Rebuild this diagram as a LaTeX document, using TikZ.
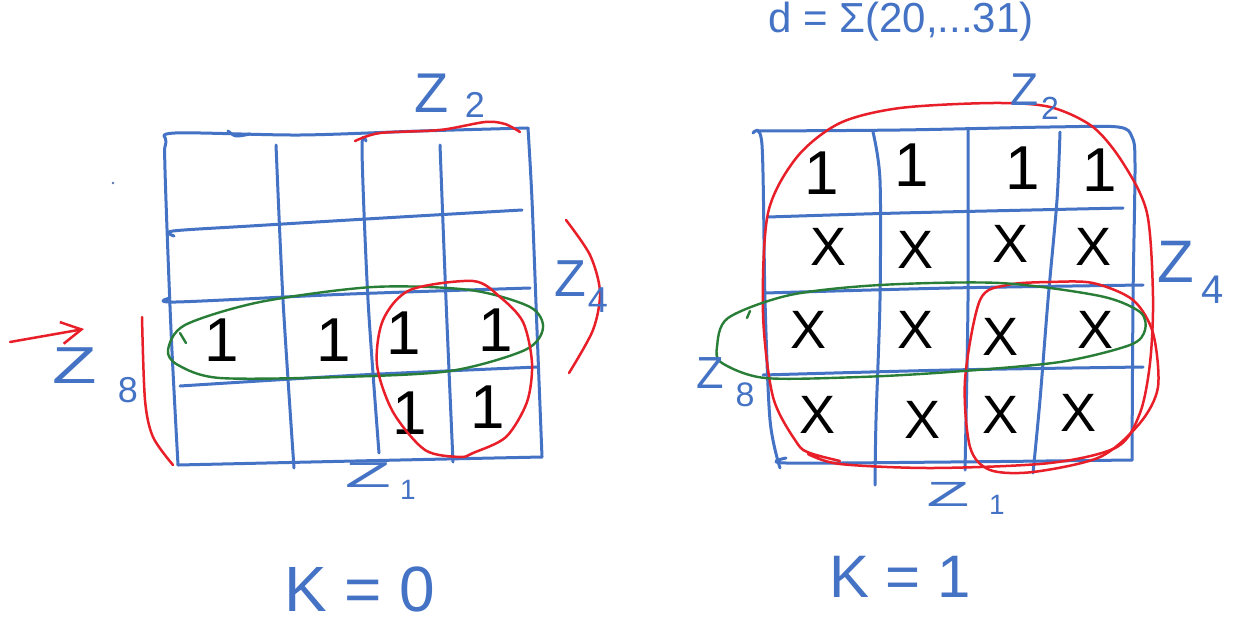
\documentclass[tikz,border=0pt]{standalone}
\usepackage{fontspec}
\setmainfont{Liberation Sans}
\usetikzlibrary{arrows.meta}
\definecolor{pen}{RGB}{68,114,196}
\definecolor{rpen}{RGB}{232,30,40}
\definecolor{gpen}{RGB}{40,125,55}
\newcommand{\fsz}[1]{\fontsize{#1}{#1}\selectfont}
\begin{document}
\begin{tikzpicture}[x=1pt,y=-1pt,
  grid/.style={draw=pen,line width=3pt,line cap=round,line join=round},
  loopr/.style={draw=rpen,line width=2.5pt,line cap=round,line join=round},
  loopg/.style={draw=gpen,line width=2.4pt,line cap=round,line join=round},
  lbl/.style={text=pen,inner sep=0pt},
  cellone/.style={text=black,inner sep=0pt,font=\fsz{62}},
  cellx/.style={text=black,inner sep=0pt,font=\fsz{54}}]
\fill[white] (0,0) rectangle (1236,624);
\useasboundingbox (0,0) rectangle (1236,624);

% ---------------- left map (K=0) ----------------
\draw[grid] plot[smooth] coordinates {(178,465) (171,330) (165,170) (166,142) (175,133) (300,135) (420,131) (528,128)};
\draw[grid] plot[smooth] coordinates {(528,128) (532,200) (537,330) (542,457)};
\draw[grid] plot[smooth] coordinates {(542,457) (400,460) (178,465)};
\draw[grid] plot[smooth] coordinates {(228,131) (236,136) (250,134)};
\draw[grid] plot[smooth] coordinates {(276,145) (283,300) (294,468)};
\draw[grid] plot[smooth] coordinates {(366,141) (362,150) (368,300) (379,453)};
\draw[grid] plot[smooth] coordinates {(440,145) (446,300) (453,462)};
\draw[grid] plot[smooth] coordinates {(174,236) (173,231) (250,226) (400,217) (522,210)};
\draw[grid] plot[smooth] coordinates {(170,298) (176,302) (350,294) (530,288)};
\draw[grid] plot[smooth] coordinates {(180,386) (360,375) (538,367)};

\node[cellone] (a31) at (222,340) {1};
\node[cellone] (a32) at (334,340) {1};
\node[cellone] (a33) at (404,333) {1};
\node[cellone] (a34) at (496,330) {1};
\node[cellone] (a43) at (410,413) {1};
\node[cellone] (a44) at (488,407) {1};

\draw[loopg] plot[smooth cycle] coordinates {(168,350) (185,325) (260,302) (373,287) (470,290) (530,307) (543,328) (525,350) (450,371) (340,377) (220,378) (178,365)};
\draw[loopg] (180,333) -- (186,343);
\draw[loopr] plot[smooth cycle] coordinates {(460,457) (425,450) (393,412) (377,365) (383,320) (410,290) (473,281) (500,297) (523,322) (532,363) (527,402) (506,437) (473,453)};
\draw[loopr] plot[smooth] coordinates {(142,317) (145,400) (153,437) (173,465)};
\draw[loopr] plot[smooth] coordinates {(355,141) (380,133) (440,130) (485,122) (505,124) (520,132)};
\draw[loopr] plot[smooth] coordinates {(566,220) (590,255) (600,292) (593,330) (569,373)};
\coordinate (arT) at (10,342);
\coordinate (arH) at (84,329);
\draw[loopr,-{Straight Barb[length=20pt,width=22pt,line width=2.5pt]}] (arT) -- (arH);

\node[lbl,font=\fsz{56}] (lz2) at (432,93) {Z};
\node[lbl,font=\fsz{36}] (lz2s) at (475,105) {2};
\node[lbl,font=\fsz{52}] (lz4) at (570,279) {Z};
\node[lbl,font=\fsz{36}] (lz4s) at (598,300) {4};
\node[lbl,font=\fsz{52}] (lz8) at (75,366) {\scalebox{1.4}[1]{Z}};
\node[lbl,font=\fsz{36}] (lz8s) at (128,390) {8};
\node[lbl,font=\fsz{36}] (lz1) at (368,475) {\scalebox{2.1}[1]{Z}};
\node[lbl,font=\fsz{28}] (lz1s) at (408,490) {1};
\node[lbl,font=\fsz{64}] (lk) at (360,589) {K = 0};
\fill[pen!70!gray] (113,183) circle (1.3);

% ---------------- right map (K=1) ----------------
\node[lbl,font=\fsz{42},anchor=base west] (topeq) at (768,32) {d = Σ(20,...31)};

\draw[grid] plot[smooth] coordinates {(757,131) (900,130) (1050,127) (1118,127) (1132,137) (1135,165) (1133,300) (1132,460)};
\draw[grid] plot[smooth] coordinates {(1132,460) (950,462) (786,463) (786,458)};
\draw[grid] plot[smooth] coordinates {(753,133) (762,145) (765,300) (770,420) (780,468)};
\draw[grid] plot[smooth] coordinates {(873,132) (880,180) (880,300) (876,420) (875,485)};
\draw[grid] plot[smooth] coordinates {(968,128) (968,300) (965,470)};
\draw[grid] plot[smooth] coordinates {(1060,132) (1057,200) (1048,300) (1040,400) (1033,473)};
\draw[grid] plot[smooth] coordinates {(768,217) (900,213) (1123,208)};
\draw[grid] plot[smooth] coordinates {(765,293) (950,288) (1143,285)};
\draw[grid] plot[smooth] coordinates {(763,375) (950,370) (1143,367)};

\node[cellone] (b11) at (822,173) {1};
\node[cellone] (b12) at (912,165) {1};
\node[cellone] (b13) at (1023,168) {1};
\node[cellone] (b14) at (1100,170) {1};
\node[cellx] (b21) at (828,247) {X};
\node[cellx] (b22) at (915,250) {X};
\node[cellx] (b23) at (1010,244) {X};
\node[cellx] (b24) at (1093,247) {X};
\node[cellx] (b31) at (808,330) {X};
\node[cellx] (b32) at (915,330) {X};
\node[cellx] (b33) at (1000,337) {X};
\node[cellx] (b34) at (1095,330) {X};
\node[cellx] (b41) at (817,415) {X};
\node[cellx] (b42) at (922,420) {X};
\node[cellx] (b43) at (1000,415) {X};
\node[cellx] (b44) at (1078,413) {X};

\draw[loopr] plot[smooth] coordinates {(840,461) (810,453) (797,443) (773,397) (763,313) (768,213) (797,157) (840,123) (900,108) (993,103) (1050,107) (1093,127) (1123,163) (1147,213) (1153,297) (1150,363) (1140,413) (1117,447) (1050,463) (933,468) (840,464) (808,454)};
\draw[loopr] plot[smooth cycle] coordinates {(980,300) (965,380) (970,447) (990,470) (1033,472) (1100,457) (1140,423) (1158,387) (1153,333) (1133,300) (1093,283) (1050,282) (1007,285)};
\draw[loopg] plot[smooth cycle] coordinates {(717,347) (728,318) (790,295) (880,285) (1000,283) (1100,296) (1140,312) (1145,330) (1130,345) (1060,362) (950,372) (860,377) (765,378) (722,363)};
\draw[loopg] (747,318) -- (750,311);

\node[lbl,font=\fsz{46}] (rz2) at (1025,90) {Z};
\node[lbl,font=\fsz{32}] (rz2s) at (1050,108) {2};
\node[lbl,font=\fsz{60}] (rz4) at (1176,262) {Z};
\node[lbl,font=\fsz{40}] (rz4s) at (1213,290) {4};
\node[lbl,font=\fsz{45}] (rz8) at (710,373) {Z};
\node[lbl,font=\fsz{34}] (rz8s) at (745,395) {8};
\node[lbl,font=\fsz{35}] (rz1) at (948,494) {\scalebox{2.0}[1]{Z}};
\node[lbl,font=\fsz{28}] (rz1s) at (997,505) {1};
\node[lbl,font=\fsz{60}] (rk) at (900,577) {K = 1};
\end{tikzpicture}
\end{document}
